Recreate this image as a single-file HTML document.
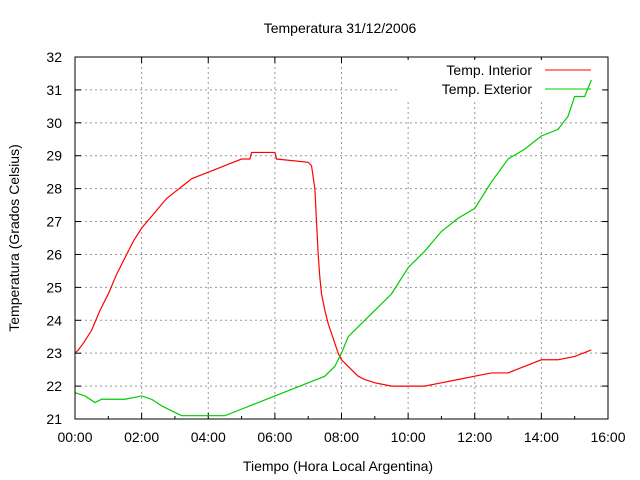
<!DOCTYPE html>
<html><head><meta charset="utf-8"><style>
body{margin:0;background:#fff}
svg{display:block;font-family:"Liberation Sans",sans-serif}
</style></head><body>
<svg id="c" width="640" height="480">
<text x="340" y="33" text-anchor="middle" font-size="14">Temperatura 31/12/2006</text>
<text x="338" y="471" text-anchor="middle" font-size="14">Tiempo (Hora Local Argentina)</text>
<text transform="translate(19,238) rotate(-90)" text-anchor="middle" font-size="14">Temperatura (Grados Celsius)</text>
<g id="grid"></g><g id="ticks"></g>
<rect x="397" y="60" width="205" height="40" fill="#fff"/>
<g id="series"></g>
<rect x="75" y="57" width="533" height="362" fill="none" stroke="#000" stroke-width="1"/>
<text x="532" y="75" text-anchor="end" font-size="14">Temp. Interior</text>
<line x1="545" y1="70" x2="591" y2="70" stroke="#f00"/>
<text x="532" y="94" text-anchor="end" font-size="14">Temp. Exterior</text>
<line x1="545" y1="89" x2="591" y2="89" stroke="#0c0"/>
</svg>
<script>
const xTicks=["00:00","02:00","04:00","06:00","08:00","10:00","12:00","14:00","16:00"];
const yTicks=[21,22,23,24,25,26,27,28,29,30,31,32];
const intT=[0,0.1,0.25,0.5,0.75,1.0,1.25,1.5,1.75,2.0,2.25,2.5,2.75,3.0,3.25,3.5,3.75,4.0,4.25,4.5,4.75,5.0,5.25,5.3,6.0,6.05,7.0,7.1,7.2,7.25,7.3,7.35,7.4,7.5,7.6,7.7,7.8,7.9,8.0,8.1,8.3,8.5,8.7,9.0,9.5,10.0,10.5,11.0,11.5,12.0,12.5,13.0,13.5,14.0,14.5,15.0,15.5];
const intV=[23.0,23.1,23.3,23.7,24.3,24.8,25.4,25.9,26.4,26.8,27.1,27.4,27.7,27.9,28.1,28.3,28.4,28.5,28.6,28.7,28.8,28.9,28.9,29.1,29.1,28.9,28.8,28.7,28.0,27.0,26.0,25.3,24.8,24.3,23.9,23.6,23.3,23.0,22.8,22.7,22.5,22.3,22.2,22.1,22.0,22.0,22.0,22.1,22.2,22.3,22.4,22.4,22.6,22.8,22.8,22.9,23.1];
const extT=[0,0.3,0.6,0.8,1.5,2.0,2.3,2.6,3.0,3.2,3.5,4.0,4.5,5.0,5.5,6.0,6.5,7.0,7.5,7.8,8.0,8.2,8.5,9.0,9.5,10.0,10.5,11.0,11.5,12.0,12.5,13.0,13.5,14.0,14.5,14.8,15.0,15.3,15.5];
const extV=[21.8,21.7,21.5,21.6,21.6,21.7,21.6,21.4,21.2,21.1,21.1,21.1,21.1,21.3,21.5,21.7,21.9,22.1,22.3,22.6,23.0,23.5,23.8,24.3,24.8,25.6,26.1,26.7,27.1,27.4,28.2,28.9,29.2,29.6,29.8,30.2,30.8,30.8,31.3];
const X0=75,X1=608,Y0=419,Y1=57;
const xs=h=>X0+(h/16)*(X1-X0);
const ys=v=>Y0-(v-21)/(32-21)*(Y0-Y1);
const NS="http://www.w3.org/2000/svg";
const g=document.getElementById('grid'),t=document.getElementById('ticks'),s=document.getElementById('series');
function mk(tag,attrs,parent){const e=document.createElementNS(NS,tag);for(const k in attrs)e.setAttribute(k,attrs[k]);parent.appendChild(e);return e;}
yTicks.forEach((v,i)=>{const y=ys(v);
 if(i>0&&i<yTicks.length-1){const l=mk('line',{x1:X0,x2:X1,y1:y,y2:y,stroke:'#999','stroke-dasharray':'2,3'},g);
 
 }
 const a=mk('line',{x1:X0,x2:X0+6,y1:y,y2:y,stroke:'#000'},t);
 
 
 const b=mk('line',{x1:X1-6,x2:X1,y1:y,y2:y,stroke:'#000'},t);
 
 
 const tx=mk('text',{x:62,y:y+5,'text-anchor':'end','font-size':14},t);tx.textContent=v;
 
 });
xTicks.forEach((lab,i)=>{const x=xs(i*2);
 if(i>0&&i<xTicks.length-1){const l=mk('line',{x1:x,x2:x,y1:Y1,y2:Y0,stroke:'#999','stroke-dasharray':'2,3'},g);
 
 }
 const a=mk('line',{x1:x,x2:x,y1:Y0-6,y2:Y0,stroke:'#000'},t);
 
 
 const b=mk('line',{x1:x,x2:x,y1:Y1,y2:Y1+6,stroke:'#000'},t);
 
 
 const tx=mk('text',{x:x,y:442,'text-anchor':'middle','font-size':14},t);tx.textContent=lab;
 
 
 if(i<xTicks.length-1){const m=xs(i*2+1);
  const c=mk('line',{x1:m,x2:m,y1:Y0-3,y2:Y0,stroke:'#000'},t);
  
  }});
function linePath(T,V){let d='M'+xs(T[0])+','+ys(V[0]);for(let i=1;i<T.length;i++){d+=' L'+xs(T[i])+','+ys(V[i]);}return d;}
const p1=mk('path',{d:linePath(intT,intV),fill:'none',stroke:'#f00','stroke-width':1.2},s);


const p2=mk('path',{d:linePath(extT,extV),fill:'none',stroke:'#0c0','stroke-width':1.2},s);


</script>
</body></html>
